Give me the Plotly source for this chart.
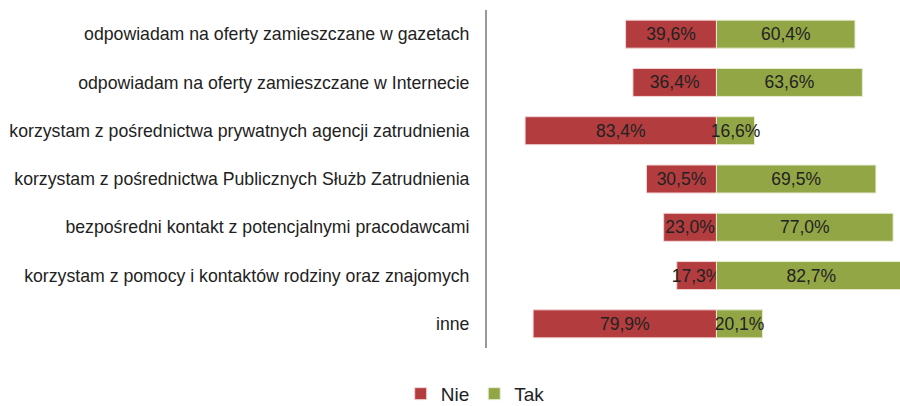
import plotly.graph_objects as go

categories = [
    "odpowiadam na oferty zamieszczane w gazetach",
    "odpowiadam na oferty zamieszczane w Internecie",
    "korzystam z pośrednictwa prywatnych agencji zatrudnienia",
    "korzystam z pośrednictwa Publicznych Służb Zatrudnienia",
    "bezpośredni kontakt z potencjalnymi pracodawcami",
    "korzystam z pomocy i kontaktów rodziny oraz znajomych",
    "inne",
]
nie = [39.6, 36.4, 83.4, 30.5, 23.0, 17.3, 79.9]
tak = [60.4, 63.6, 16.6, 69.5, 77.0, 82.7, 20.1]

FONT = "Liberation Sans, Arial, sans-serif"

def fmt(v):
    return f"{v:.1f}".replace(".", ",") + "%"

fig = go.Figure()
fig.add_trace(go.Bar(
    name="Nie", y=categories, x=[-v for v in nie], orientation="h",
    marker=dict(color="#B33C3E", line=dict(color="#F2D6D6", width=1)),
    text=[fmt(v) for v in nie], textposition="inside", insidetextanchor="middle",
    constraintext="none", textfont=dict(color="#222222", size=17.5, family=FONT),
    hoverinfo="skip",
))
fig.add_trace(go.Bar(
    name="Tak", y=categories, x=tak, orientation="h",
    marker=dict(color="#93A646", line=dict(color="#E6ECD2", width=1)),
    text=[fmt(v) for v in tak], textposition="inside", insidetextanchor="middle",
    constraintext="none", textfont=dict(color="#222222", size=17.5, family=FONT),
    hoverinfo="skip",
))

fig.update_layout(
    width=900, height=406,
    barmode="relative", bargap=0.42,
    margin=dict(l=487, r=0, t=10, b=58, autoexpand=False),
    paper_bgcolor="white", plot_bgcolor="white",
    font=dict(family=FONT, color="#222222"),
    legend=dict(
        orientation="h", xref="container", x=0.528, xanchor="center",
        yref="container", y=0.03, yanchor="middle",
        font=dict(size=19, family=FONT, color="#222222"),
        traceorder="normal",
    ),
    xaxis=dict(range=[-100, 80], visible=False, fixedrange=True, automargin=False),
    yaxis=dict(
        autorange="reversed", showline=True, linecolor="#999999", linewidth=2,
        ticks="", showgrid=False, zeroline=False, automargin=False,
        tickfont=dict(size=17.7, family=FONT, color="#222222"),
        ticklabelstandoff=12, fixedrange=True,
    ),
    showlegend=True,
)

fig.write_html(
    "out.html",
    config={"displayModeBar": False},
    post_script="document.body.style.margin='0';document.body.style.overflow='hidden';",
)
